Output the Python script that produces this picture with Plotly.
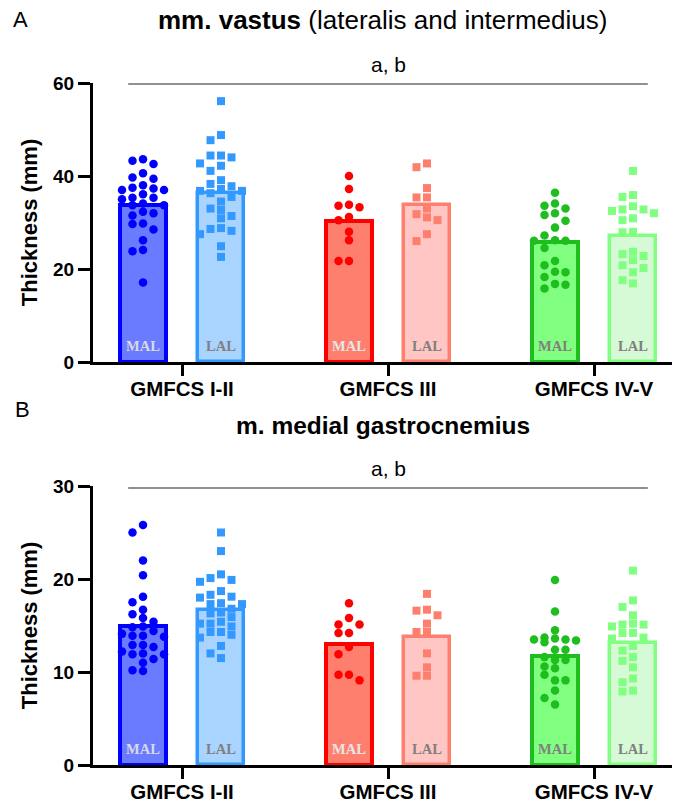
import numpy as np
import plotly.graph_objects as go

# ---------------- data ----------------
groups = ["GMFCS I-II", "GMFCS III", "GMFCS IV-V"]
series = ["MAL", "LAL"]

# Panel A: mm. vastus (thickness, mm)
vastus_mean_MAL = [33.8, 30.4, 25.9]
vastus_mean_LAL = [36.4, 33.8, 27.2]
vastus_MAL_I_II = [43.6, 42.6, 43.3, 40.6, 39.4, 39.7, 37.0, 38.0, 37.0, 37.3, 37.5, 35.3, 36.1, 35.0,
                   35.3, 33.7, 34.1, 33.7, 32.3, 32.0, 31.5, 29.8, 29.7, 28.5, 26.2, 24.1, 23.8, 17.1]
vastus_LAL_I_II = [56.1, 48.8, 47.7, 44.4, 44.4, 44.0, 42.7, 42.2, 41.1, 39.1, 37.8, 38.3, 36.8, 36.8,
                   37.2, 36.3, 34.5, 32.7, 30.9, 35.5, 33.0, 31.4, 28.2, 27.5, 28.6, 28.8, 24.9, 22.6]
vastus_MAL_III = [40.0, 37.2, 33.8, 33.3, 33.6, 31.2, 30.5, 28.0, 26.2, 21.7, 21.7]
vastus_LAL_III = [42.7, 41.9, 37.4, 35.4, 35.4, 33.0, 31.1, 31.8, 30.5, 27.5, 26.0]
vastus_MAL_IV_V = [36.4, 34.1, 33.0, 33.6, 32.0, 31.6, 30.4, 28.9, 27.2, 26.1, 26.2, 26.1, 24.5, 21.7,
                   20.8, 18.3, 15.8, 19.3, 16.6, 19.4, 16.8]
vastus_LAL_IV_V = [41.1, 35.9, 35.5, 33.5, 32.0, 32.8, 32.8, 30.9, 32.5, 30.5, 27.9, 28.0, 22.8, 23.7,
                   23.2, 21.9, 20.8, 20.2, 19.3, 17.6, 16.9]

# Panel B: m. medial gastrocnemius (thickness, mm)
gastro_mean_MAL = [14.9, 13.0, 11.7]
gastro_mean_LAL = [16.7, 13.8, 13.15]
gastro_MAL_I_II = [25.8, 25.0, 22.0, 20.4, 18.1, 17.5, 16.7, 16.2, 15.8, 15.4, 14.9, 14.8, 14.4, 14.1,
                   13.8, 13.9, 13.9, 12.9, 12.9, 12.7, 11.9, 11.9, 12.0, 12.2, 11.0, 11.4, 10.1, 10.2]
gastro_LAL_I_II = [25.0, 23.0, 20.5, 19.7, 19.9, 20.1, 18.7, 18.0, 18.1, 18.3, 17.4, 17.3, 17.3, 16.4,
                   16.8, 15.9, 16.3, 15.4, 15.2, 15.2, 14.3, 14.3, 14.9, 14.0, 13.7, 12.8, 12.0, 11.5]
gastro_MAL_III = [17.4, 15.8, 15.1, 15.1, 14.2, 14.2, 12.7, 11.9, 9.7, 9.7, 9.1]
gastro_LAL_III = [18.4, 16.7, 16.6, 16.1, 15.2, 14.3, 14.3, 12.0, 10.5, 9.6, 9.6]
gastro_MAL_IV_V = [19.9, 16.5, 14.5, 13.7, 13.4, 13.5, 13.2, 13.5, 13.6, 12.4, 12.4, 11.6, 11.3, 11.3,
                   10.6, 10.4, 9.7, 9.1, 9.1, 8.0, 7.2, 6.5]
gastro_LAL_IV_V = [20.9, 17.7, 17.0, 16.1, 15.1, 15.1, 14.9, 15.2, 14.2, 14.2, 13.7, 13.6, 12.8, 12.3,
                   11.6, 11.2, 10.5, 9.3, 8.9, 7.9, 8.0]

y_ticks_A = [0, 20, 40, 60]
y_ticks_B = [0, 10, 20, 30]

# ---------------- style ----------------
W, H = 674, 805
FONT = "Liberation Sans, Arial, Helvetica, sans-serif"
SERIF = "Liberation Serif, Times New Roman, serif"

fill_MAL = ["#6B7BFF", "#FF7F6F", "#80FF80"]
fill_LAL = ["#A9D4FF", "#FFC6C4", "#D6FAD6"]
edge_MAL = ["#0000FF", "#FF0000", "#1DBE1D"]
edge_LAL = ["#3399FF", "#FF7F6F", "#80FF80"]
lab_MAL = ["#D8D8E6", "#E6E6E6", "#808080"]
lab_LAL = ["#808080", "#808080", "#808080"]

PX_X = 78.0                      # pixels per x unit
group_pos = np.array([0.0, 2.641, 5.282])
pos_MAL = group_pos - 0.5
pos_LAL = group_pos + 0.5
x_range = [-1.141, 6.282]
BAR_W = 0.60

x_dom = [93 / W, 672 / W]
def paper_y(p):
    return 1 - p / H

yA_dom = [paper_y(362), paper_y(83)]
yB_dom = [paper_y(765), paper_y(486)]
PX_YA = (362 - 83) / 60.0
PX_YB = (765 - 486) / 30.0


def swarm(values, px_y, step_px=10.5, dia_px=8.0):
    vals = np.asarray(values, float)
    order = np.argsort(-vals)
    placed = []
    offs = np.zeros(len(vals))
    cands = [0, -1, 1, -2, 2]
    for i in order:
        ypx = vals[i] * px_y
        chosen = None
        for k in cands:
            if all(not (c == k and abs(y - ypx) < dia_px) for c, y in placed):
                chosen = k
                break
        if chosen is None:
            best, bd = 0, -1
            for k in cands:
                d = min([abs(y - ypx) for c, y in placed if c == k] + [1e9])
                if d > bd:
                    best, bd = k, d
            chosen = best
        placed.append((chosen, ypx))
        offs[i] = chosen * step_px / PX_X
    return offs


fig = go.Figure()

panels = [
    ("x", "y", PX_YA, vastus_mean_MAL, vastus_mean_LAL,
     [vastus_MAL_I_II, vastus_MAL_III, vastus_MAL_IV_V],
     [vastus_LAL_I_II, vastus_LAL_III, vastus_LAL_IV_V]),
    ("x2", "y2", PX_YB, gastro_mean_MAL, gastro_mean_LAL,
     [gastro_MAL_I_II, gastro_MAL_III, gastro_MAL_IV_V],
     [gastro_LAL_I_II, gastro_LAL_III, gastro_LAL_IV_V]),
]

for xa, ya, pxy, mM, mL, ptsM, ptsL in panels:
    xs = list(pos_MAL) + list(pos_LAL)
    ys = list(mM) + list(mL)
    fig.add_trace(go.Bar(
        x=xs, y=ys, width=BAR_W, xaxis=xa, yaxis=ya,
        marker=dict(color=fill_MAL + fill_LAL,
                    line=dict(color=edge_MAL + edge_LAL, width=[4, 4, 4, 3.5, 3.5, 3.5])),
        showlegend=False, hoverinfo="skip"))
    for gi in range(3):
        for pts, pos, col, sym in ((ptsM[gi], pos_MAL[gi], edge_MAL[gi], "circle"),
                                   (ptsL[gi], pos_LAL[gi], edge_LAL[gi], "square")):
            offs = swarm(pts, pxy)
            fig.add_trace(go.Scatter(
                x=pos + offs, y=pts, mode="markers", xaxis=xa, yaxis=ya,
                marker=dict(symbol=sym, size=8.5 if sym == "circle" else 8, color=col,
                            line=dict(width=0)),
                cliponaxis=False, showlegend=False, hoverinfo="skip"))
    # MAL / LAL labels inside bars
    for gi in range(3):
        for pos, txt, c in ((pos_MAL[gi], "MAL", lab_MAL[gi]), (pos_LAL[gi], "LAL", lab_LAL[gi])):
            fig.add_annotation(x=pos, y=0, xref=xa, yref=ya, text="<b>%s</b>" % txt,
                               showarrow=False, yanchor="middle", yshift=16,
                               font=dict(family=SERIF, size=14.5, color=c))

axis_common = dict(showline=True, linewidth=3, linecolor="black", ticks="outside",
                   ticklen=12, tickwidth=3, tickcolor="black", showgrid=False, zeroline=False,
                   automargin=False,
                   tickfont=dict(family=FONT, size=19, color="black", weight="bold"))
xaxis_common = dict(axis_common)
xaxis_common["ticklen"] = 11
xaxis_common["ticklabelstandoff"] = -5
xaxis_common["tickfont"] = dict(family=FONT, size=20.5, color="black", weight="bold")

ytitle_font = dict(family=FONT, size=22, color="black", weight="bold")

fig.update_layout(
    width=W, height=H, plot_bgcolor="white", paper_bgcolor="white",
    margin=dict(l=0, r=0, t=0, b=0, pad=0, autoexpand=False), bargap=0, barmode="overlay",
    xaxis=dict(domain=x_dom, range=x_range, anchor="y", tickvals=list(group_pos),
               ticktext=groups, **xaxis_common),
    yaxis=dict(domain=yA_dom, range=[0, 60], anchor="x", tickvals=y_ticks_A,
               title=dict(text="Thickness (mm)", standoff=10, font=ytitle_font),
               **axis_common),
    xaxis2=dict(domain=x_dom, range=x_range, anchor="y2", tickvals=list(group_pos),
                ticktext=groups, **xaxis_common),
    yaxis2=dict(domain=yB_dom, range=[0, 30], anchor="x2", tickvals=y_ticks_B,
                title=dict(text="Thickness (mm)", standoff=10, font=ytitle_font),
                **axis_common),
)

# significance lines and labels
line_x0 = pos_MAL[0] - 0.19
line_x1 = pos_LAL[2] + 0.19
for xa, ya, ytop, pline in (("x", "y", 60, 84), ("x2", "y2", 30, 488)):
    fig.add_shape(type="line", xref=xa, yref="paper", x0=line_x0, x1=line_x1,
                  y0=paper_y(pline), y1=paper_y(pline), line=dict(color="#222222", width=1.2))
    fig.add_annotation(xref=xa, yref="paper", x=(line_x0 + line_x1) / 2, y=paper_y(pline - 6),
                       text="a, b", showarrow=False, yanchor="bottom",
                       font=dict(family=FONT, size=21, color="black"))

# panel titles and letters
fig.add_annotation(xref="paper", yref="paper", x=(93 + 672) / 2 / W, y=paper_y(20),
                   text="<b>mm. vastus</b> (lateralis and intermedius)", showarrow=False,
                   yanchor="middle", font=dict(family=FONT, size=26, color="black"))
fig.add_annotation(xref="paper", yref="paper", x=(93 + 672) / 2 / W, y=paper_y(425),
                   text="<b>m. medial gastrocnemius</b>", showarrow=False,
                   yanchor="middle", font=dict(family=FONT, size=24.5, color="black"))
fig.add_annotation(xref="paper", yref="paper", x=20 / W, y=paper_y(19), text="A",
                   showarrow=False, xanchor="center", yanchor="middle",
                   font=dict(family=FONT, size=22, color="black"))
fig.add_annotation(xref="paper", yref="paper", x=22 / W, y=paper_y(410), text="B",
                   showarrow=False, xanchor="center", yanchor="middle",
                   font=dict(family=FONT, size=22, color="black"))

fig.write_html("out.html", config={"displayModeBar": False},
               post_script="document.body.style.margin='0px';")
